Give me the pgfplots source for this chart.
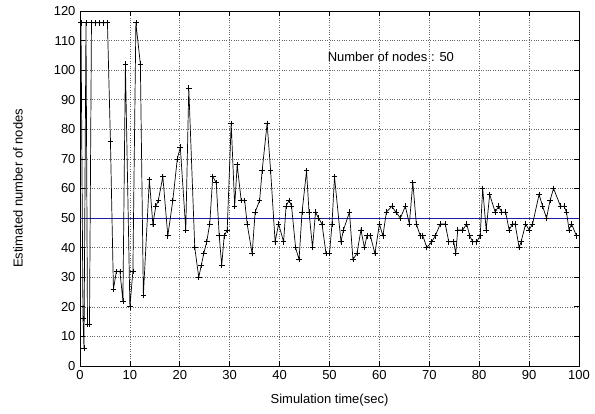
\documentclass[border=0pt]{standalone}
\usepackage{pgfplots}
\pgfplotsset{compat=1.18}
\usepackage{fontspec}
\setmainfont{Liberation Sans}
\begin{document}
\fontsize{13}{15.5}\selectfont
\begin{tikzpicture}
\begin{axis}[
  scale only axis,
  width=499pt, height=355pt,
  xmin=0, xmax=100, ymin=0, ymax=120,
  xtick distance=10, ytick distance=10,
  grid=major,
  grid style={dotted, black!60, line width=0.6pt},
  axis line style={black, line width=0.7pt},
  tick style={black, line width=0.7pt},
  major tick length=5pt,
  tick align=inside,
  /pgf/number format/assume math mode=true,
  ticklabel style={font=\fontsize{13}{15.5}\selectfont},
  xlabel={Simulation time(sec)},
  ylabel={Estimated number of nodes},
  xlabel style={at={(axis description cs:0.5,-0.0958)}, anchor=center},
  ylabel style={at={(axis description cs:-0.1242,0.5)}, anchor=center},
  clip=false,
]
\coordinate (bl) at (rel axis cs:0,0);
\coordinate (tr) at (rel axis cs:1,1);
\addplot[color={rgb,255:red,30;green,30;blue,160}, line width=0.7pt, forget plot] coordinates {(0,50) (100,50)};
\addplot[black, line width=0.7pt, mark=+, mark size=2.8pt, mark options={line width=0.7pt}] coordinates {
(0.2,116) (0.6,16) (0.8,6) (1.2,116) (1.5,14) (1.9,14) (2.3,116) (3.1,116) (3.9,116) (4.7,116) (5.5,116)
(6.1,76) (6.7,26) (7.3,32) (8.0,32) (8.6,22) (9.1,102) (10.0,20) (10.6,32) (11.2,116) (12.1,102) (12.7,24)
(13.9,63) (14.6,48) (15.2,54) (15.7,56) (16.6,64) (17.6,44) (18.6,56) (19.5,70) (20.1,74) (21.2,46) (21.8,94)
(23.0,40) (23.8,30) (24.3,34) (24.8,38) (25.4,42) (26.0,48) (26.6,64) (27.3,62) (27.9,44) (28.4,34) (28.9,44)
(29.5,46) (30.3,82) (31.0,54) (31.5,68) (32.3,56) (33.0,56) (33.5,48) (34.5,38) (35.1,52) (36.0,56) (36.5,66)
(37.5,82) (38.2,66) (39.1,42) (39.8,48) (40.8,42) (41.3,54) (41.9,56) (42.4,54) (43.2,40) (43.9,36) (44.5,52)
(45.4,66) (45.9,52) (46.6,40) (47.2,52) (47.8,50) (48.5,48) (49.3,38) (50.0,38) (50.5,48) (51.0,64) (52.3,42)
(52.8,46) (54.0,52) (54.7,36) (55.5,38) (56.3,46) (57.0,40) (57.5,44) (58.2,44) (59.1,38) (60.0,48) (60.7,44)
(61.4,52) (62.5,54) (63.3,52) (64.2,50) (65.2,54) (66.0,48) (66.7,62) (67.4,48) (68.2,44) (68.7,44) (69.5,40)
(70.5,42) (71.2,44) (72.2,48) (73.2,48) (73.9,42) (74.9,42) (75.3,38) (75.7,46) (76.7,46) (77.5,48) (78.1,44)
(78.7,42) (79.5,42) (80.2,44) (80.7,60) (81.4,46) (82.1,58) (83.2,52) (83.9,54) (84.5,52) (85.3,52) (86.0,46)
(86.7,48) (87.2,48) (88.0,40) (88.4,42) (89.3,48) (90.0,46) (90.7,48) (92.0,58) (92.7,54) (93.5,50) (94.2,56)
(94.9,60) (96.3,54) (97.0,54) (97.5,52) (98.0,46) (98.5,48) (99.5,44)
};
\node[anchor=center, font=\fontsize{13}{15.5}\selectfont] at (axis cs:62.3,104.5) {Number of nodes : 50};
\end{axis}
\pgfresetboundingbox
\useasboundingbox ([xshift=-80pt,yshift=-48pt]bl) rectangle ([xshift=16pt,yshift=11pt]tr);
\end{tikzpicture}
\end{document}
